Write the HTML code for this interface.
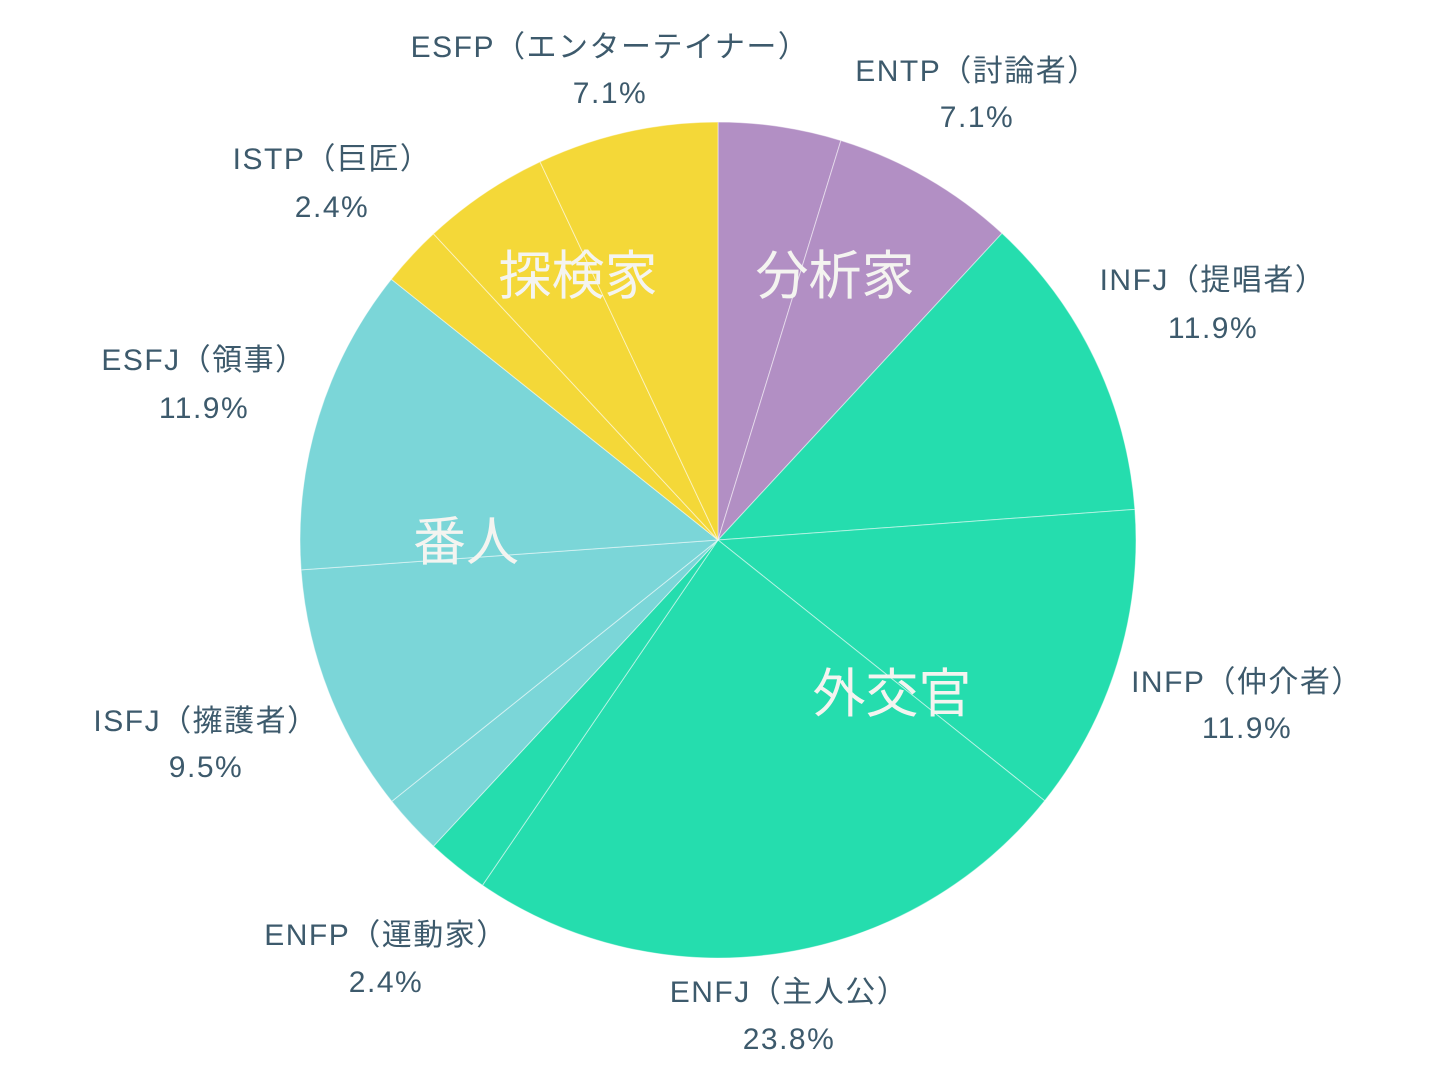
<!DOCTYPE html>
<html><head><meta charset="utf-8"><style>
html,body{margin:0;padding:0;background:#fff;width:1440px;height:1080px;overflow:hidden}
svg text{font-family:"Liberation Sans","Noto Sans CJK JP",sans-serif}
</style></head><body>
<svg id="s" width="1440" height="1080" xmlns="http://www.w3.org/2000/svg">
<g id="pie"></g>
<g font-size="30" fill="#3d5a6c" text-anchor="middle" letter-spacing="1.5">
<text x="610" y="57">ESFP（エンターテイナー）</text><text x="610" y="103">7.1%</text>
<text x="977" y="81">ENTP（討論者）</text><text x="977" y="127">7.1%</text>
<text x="332" y="169">ISTP（巨匠）</text><text x="332" y="217">2.4%</text>
<text x="1213" y="290">INFJ（提唱者）</text><text x="1213" y="338">11.9%</text>
<text x="204" y="370">ESFJ（領事）</text><text x="204" y="418">11.9%</text>
<text x="1247" y="692">INFP（仲介者）</text><text x="1247" y="738">11.9%</text>
<text x="206" y="731">ISFJ（擁護者）</text><text x="206" y="777">9.5%</text>
<text x="386" y="945">ENFP（運動家）</text><text x="386" y="992">2.4%</text>
<text x="789" y="1002">ENFJ（主人公）</text><text x="789" y="1049">23.8%</text>
</g>
<g font-size="53" fill="#f4f4f0" text-anchor="middle">
<text x="835" y="294">分析家</text>
<text x="578" y="294">探検家</text>
<text x="466" y="560">番人</text>
<text x="892" y="712">外交官</text>
</g>
</svg>
<script>
var cx=718,cy=540,r=418;
var b=[0,17.1,42.8,85.8,128.6,214.3,222.9,231.3,265.9,308.6,317.1,334.8,360];
var c=["#b28fc4","#b28fc4","#25ddae","#25ddae","#25ddae","#25ddae","#7bd6d8","#7bd6d8","#7bd6d8","#f4d838","#f4d838","#f4d838"];
function p(a){a=a*Math.PI/180;return [cx+r*Math.sin(a),cy-r*Math.cos(a)];}
var h="";
for(var i=0;i<12;i++){var s=p(b[i]),e=p(b[i+1]);var l=(b[i+1]-b[i])>180?1:0;
h+='<path d="M'+cx+','+cy+'L'+s[0]+','+s[1]+'A'+r+','+r+' 0 '+l+' 1 '+e[0]+','+e[1]+'Z" fill="'+c[i]+'" stroke="rgba(255,255,255,0.5)" stroke-width="1"/>';}
document.getElementById("pie").innerHTML=h;
</script>
</body></html>
